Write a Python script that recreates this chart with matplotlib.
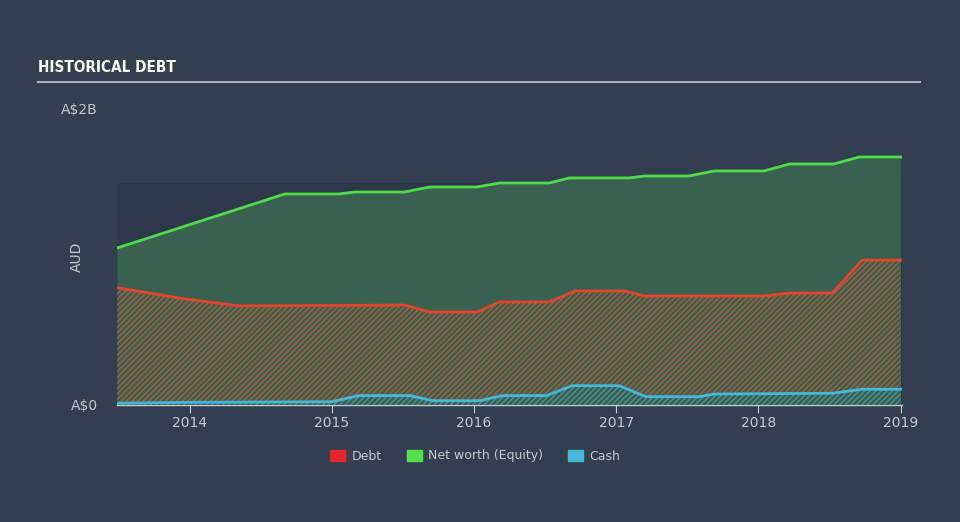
import matplotlib
matplotlib.use('Agg')
import matplotlib.pyplot as plt
import matplotlib.patches as mpatches
import numpy as np

# Data (A$ billions), dates as decimal years
eq_t = [2013.49, 2014.67, 2015.05, 2015.16, 2015.51, 2015.69, 2016.02, 2016.18, 2016.53,
        2016.67, 2017.09, 2017.20, 2017.51, 2017.69, 2018.04, 2018.22, 2018.53, 2018.71, 2019.00]
equity = [1.057, 1.421, 1.421, 1.434, 1.434, 1.468, 1.468, 1.495, 1.495,
          1.529, 1.529, 1.542, 1.542, 1.576, 1.576, 1.623, 1.623, 1.670, 1.670]

debt_t = [2013.49, 2013.93, 2014.35, 2015.51, 2015.69, 2016.02, 2016.18, 2016.53, 2016.71,
          2017.06, 2017.20, 2018.04, 2018.22, 2018.52, 2018.73, 2019.00]
debt = [0.79, 0.72, 0.667, 0.673, 0.626, 0.626, 0.694, 0.694, 0.768,
        0.768, 0.734, 0.734, 0.754, 0.754, 0.976, 0.976]

cash_t = [2013.49, 2014.0, 2015.0, 2015.19, 2015.55, 2015.71, 2016.04, 2016.2, 2016.51,
          2016.69, 2017.02, 2017.21, 2017.58, 2017.69, 2018.52, 2018.73, 2019.00]
cash = [0.012, 0.018, 0.022, 0.063, 0.063, 0.029, 0.029, 0.063, 0.063,
        0.13, 0.13, 0.056, 0.056, 0.074, 0.079, 0.106, 0.106]

years = [2014, 2015, 2016, 2017, 2018, 2019]
legend_labels = ['Debt', 'Net worth (Equity)', 'Cash']

bg = '#333f4f'
panel = '#2d3949'
green_fill = '#3a604f'
txt = '#c4c9cf'
plt.rcParams['hatch.linewidth'] = 1.0

fig = plt.figure(figsize=(9.6, 5.22), dpi=100)
fig.patch.set_facecolor(bg)
ax = fig.add_axes([117/960, 1-405/522, 785/960, 297/522])
ax.set_facecolor(bg)

# darker panel behind data
ax.axhspan(0, 1.495, color=panel, zorder=0, lw=0)

# equity area (green) from zero up
ax.fill_between(eq_t, 0, equity, color=green_fill, lw=0, zorder=1)
# debt hatched
ax.fill_between(debt_t, 0, debt, facecolor='none', edgecolor='#a85f40', hatch='//////', lw=0, zorder=2)
# cash hatched
ax.fill_between(cash_t, 0, cash, facecolor=green_fill, edgecolor='#4a93a0', hatch='//////', lw=0, zorder=3)

ax.plot(eq_t, equity, color='#4fdc4a', lw=2, zorder=5)
ax.plot(debt_t, debt, color='#e2452a', lw=2, zorder=5)
ax.plot(cash_t, cash, color='#45b8d8', lw=2, zorder=5)

ax.set_xlim(2013.49, 2019.01)
ax.set_ylim(0, 2.0)
for s in ['top', 'right', 'left']:
    ax.spines[s].set_visible(False)
ax.spines['bottom'].set_color('#c8ccd2')
ax.spines['bottom'].set_linewidth(1)

ax.set_xticks(years)
ax.set_xticklabels([str(y) for y in years])
ax.tick_params(axis='x', colors='#c8ccd2', labelcolor=txt, length=6, labelsize=10, pad=2)
ax.set_yticks([0, 2.0])
ax.set_yticklabels(['A$0', 'A$2B'])
ax.tick_params(axis='y', length=0, labelcolor=txt, labelsize=10, pad=14)
ax.set_ylabel('AUD', color=txt, fontsize=10)
ax.yaxis.set_label_coords(-0.042, 0.5)

# title and rule
fig.text(38/960, 1-68/522, 'HISTORICAL DEBT', color='white', fontsize=11, fontweight='bold',
         fontstretch='condensed', family=['DejaVu Sans'], va='center', ha='left')
fig.add_artist(plt.Line2D([38/960, 920/960], [1-82/522, 1-82/522], color='#a9b0b8', lw=1.5))

# legend
handles = [mpatches.Patch(color=c, label=l) for c, l in zip(['#e8262a', '#4fe04a', '#45b8d8'], legend_labels)]
leg = fig.legend(handles=handles, loc='center', bbox_to_anchor=(475/960, 1-456/522), ncol=3,
                 frameon=False, fontsize=9, labelcolor=txt, handlelength=1.2, handleheight=1.0,
                 columnspacing=2.0, handletextpad=0.5)

fig.savefig('out.png', dpi=100, facecolor=fig.get_facecolor())
